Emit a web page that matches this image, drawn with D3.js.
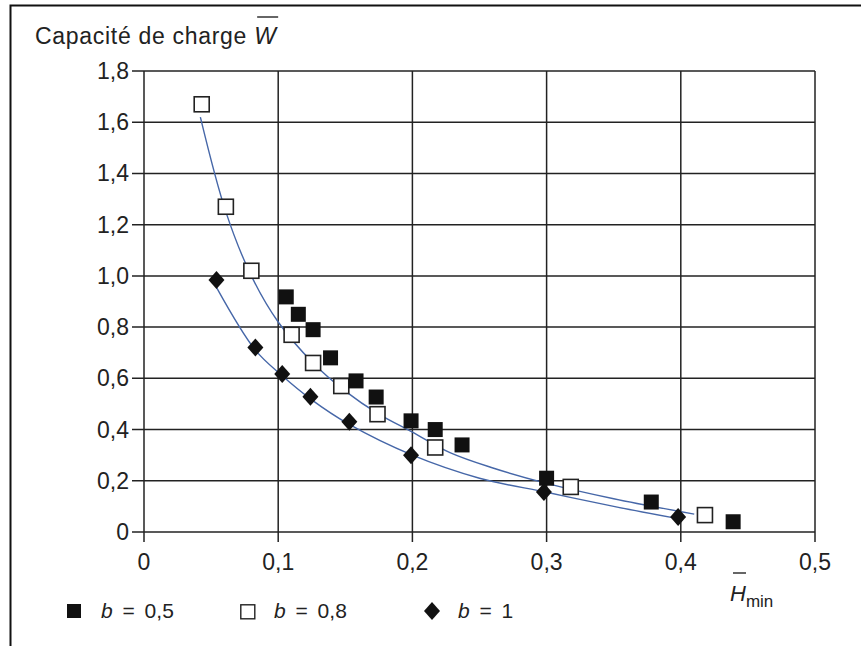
<!DOCTYPE html>
<html>
<head>
<meta charset="utf-8">
<script src="https://cdn.jsdelivr.net/npm/d3@7"></script>
<style>
  body { margin: 0; background: #fff; }
  svg { display: block; font-family: "Liberation Sans", Arial, sans-serif; }
</style>
</head>
<body>
<div id="chart"></div>
<script>
const b05 = [
  [0.106, 0.918], [0.115, 0.85], [0.126, 0.79], [0.139, 0.68], [0.158, 0.59],
  [0.173, 0.527], [0.199, 0.434], [0.217, 0.40], [0.237, 0.34], [0.300, 0.21],
  [0.378, 0.117], [0.439, 0.04]
];
const b08 = [
  [0.043, 1.67], [0.061, 1.27], [0.080, 1.02], [0.110, 0.77], [0.126, 0.66],
  [0.147, 0.57], [0.174, 0.46], [0.217, 0.33], [0.318, 0.176], [0.418, 0.066]
];
const b1 = [
  [0.054, 0.984], [0.083, 0.72], [0.103, 0.617], [0.124, 0.528], [0.153, 0.43],
  [0.199, 0.30], [0.298, 0.156], [0.398, 0.059]
];
// fitted curves drawn in blue
const fit08 = [
  [0.042, 1.62], [0.061, 1.25], [0.080, 1.0], [0.100, 0.82], [0.126, 0.66],
  [0.150, 0.55], [0.175, 0.46], [0.200, 0.39], [0.228, 0.31], [0.260, 0.25],
  [0.300, 0.19], [0.350, 0.13], [0.410, 0.07]
];
const fit1 = [
  [0.054, 0.955], [0.083, 0.71], [0.103, 0.61], [0.124, 0.52], [0.153, 0.42],
  [0.200, 0.30], [0.250, 0.21], [0.300, 0.155], [0.350, 0.10], [0.395, 0.055]
];
const xTicks = [0, 0.1, 0.2, 0.3, 0.4, 0.5];
const yTicks = [0, 0.2, 0.4, 0.6, 0.8, 1.0, 1.2, 1.4, 1.6, 1.8];
const legendItems = ['0,5', '0,8', '1'];

const width = 861, height = 646;
const x = d3.scaleLinear().domain([0, 0.5]).range([144, 815]);
const y = d3.scaleLinear().domain([0, 1.8]).range([532, 71]);
const fmt = d => d === 0 ? '0' : d3.format('.1f')(d).replace('.', ',');

const svg = d3.select('#chart').append('svg')
  .attr('width', width).attr('height', height);

svg.append('defs').append('clipPath').attr('id', 'cut')
  .append('rect').attr('x', 0).attr('y', 0).attr('width', 834).attr('height', height);

// outer frame
svg.append('path')
  .attr('d', `M10.5,${height} L10.5,5.5 L${width},5.5`)
  .attr('fill', 'none').attr('stroke', '#111').attr('stroke-width', 2);

// grid
const grid = svg.append('g').attr('stroke', '#222').attr('stroke-width', 1.5);
grid.selectAll('.h').data(yTicks).join('line')
  .attr('x1', x(0) - 12).attr('x2', x(0.5))
  .attr('y1', d => y(d)).attr('y2', d => y(d));
grid.selectAll('.v').data(xTicks).join('line')
  .attr('x1', d => x(d)).attr('x2', d => x(d))
  .attr('y1', y(1.8)).attr('y2', y(0) + 10);

// tick labels
svg.append('g').selectAll('text').data(yTicks).join('text')
  .attr('x', x(0) - 15).attr('y', d => y(d)).attr('dy', '0.35em')
  .attr('text-anchor', 'end').attr('font-size', 23).attr('fill', '#222')
  .text(fmt);
svg.append('g').attr('clip-path', 'url(#cut)')
  .selectAll('text').data(xTicks).join('text')
  .attr('x', d => x(d)).attr('y', 570)
  .attr('text-anchor', 'middle').attr('font-size', 23).attr('fill', '#222')
  .text(fmt);

// title with overlined W
const title = svg.append('text').attr('x', 35).attr('y', 44)
  .attr('font-size', 23).attr('fill', '#222').attr('letter-spacing', 0.7);
title.append('tspan').text('Capacité de charge ');
const wSpan = title.append('tspan').attr('font-style', 'italic').text('W');
const wb = wSpan.node().getBBox();
svg.append('line').attr('x1', wb.x + 3).attr('x2', wb.x + wb.width).attr('y1', 17).attr('y2', 17)
  .attr('stroke', '#333').attr('stroke-width', 1.5);

// axis label H̄min
const hl = svg.append('text').attr('x', 730).attr('y', 601)
  .attr('font-size', 22).attr('fill', '#222');
const hSpan = hl.append('tspan').attr('font-style', 'italic').text('H');
hl.append('tspan').attr('font-size', 17).attr('dy', 6).text('min');
const hb = hSpan.node().getBBox();
svg.append('line').attr('x1', hb.x + 3).attr('x2', hb.x + hb.width).attr('y1', 573).attr('y2', 573)
  .attr('stroke', '#333').attr('stroke-width', 1.5);

// curves
const line = d3.line().x(d => x(d[0])).y(d => y(d[1])).curve(d3.curveCatmullRom);
[fit08, fit1].forEach(f => {
  svg.append('path').datum(f)
    .attr('fill', 'none').attr('stroke', '#4667a8').attr('stroke-width', 1.4)
    .attr('d', line);
});

// markers
const sq = 15;
const diamond = (cx, cy) => `M${cx},${cy - 9} L${cx + 8},${cy} L${cx},${cy + 9} L${cx - 8},${cy} Z`;

svg.append('g').selectAll('rect').data(b08).join('rect')
  .attr('x', d => x(d[0]) - sq / 2).attr('y', d => y(d[1]) - sq / 2)
  .attr('width', sq).attr('height', sq)
  .attr('fill', '#fff').attr('stroke', '#222').attr('stroke-width', 1.6);
svg.append('g').selectAll('rect').data(b05).join('rect')
  .attr('x', d => x(d[0]) - sq / 2).attr('y', d => y(d[1]) - sq / 2)
  .attr('width', sq).attr('height', sq).attr('fill', '#111');
svg.append('g').selectAll('path').data(b1).join('path')
  .attr('d', d => diamond(x(d[0]), y(d[1]))).attr('fill', '#111');

// legend
const lg = svg.append('g');
const lx = [67, 240, 424];
lg.append('rect').attr('x', lx[0]).attr('y', 604).attr('width', 14).attr('height', 14).attr('fill', '#111');
lg.append('rect').attr('x', lx[1] + 0.8).attr('y', 604.8).attr('width', 14).attr('height', 14)
  .attr('fill', '#fff').attr('stroke', '#222').attr('stroke-width', 1.4);
lg.append('path').attr('d', diamond(lx[2] + 8, 611)).attr('fill', '#111');
legendItems.forEach((v, i) => {
  const t = lg.append('text').attr('x', lx[i] + 34).attr('y', 618)
    .attr('font-size', 21).attr('fill', '#222').attr('word-spacing', 4);
  t.append('tspan').attr('font-style', 'italic').text('b');
  t.append('tspan').text(' = ' + v);
});
</script>
</body>
</html>
